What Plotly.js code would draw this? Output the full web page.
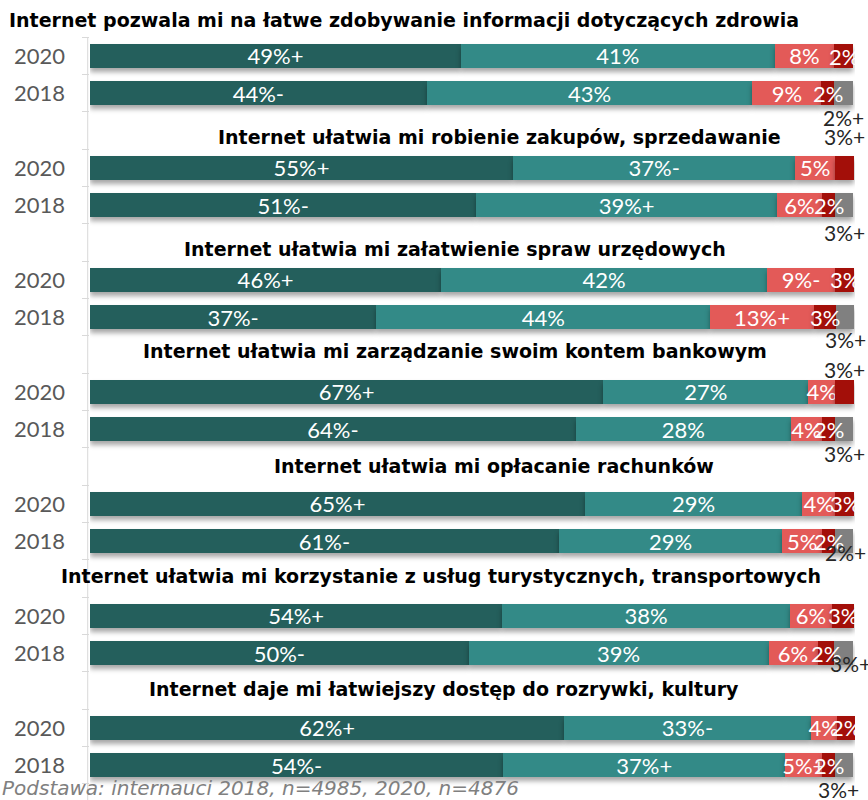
<!DOCTYPE html>
<html>
<head>
<meta charset="utf-8">
<script src="https://cdn.plot.ly/plotly-3.0.1.min.js"></script>
<style>
  html, body { margin: 0; padding: 0; background: #ffffff; }
  #chart { width: 868px; height: 800px; }
  .barlayer .point path { filter: drop-shadow(0px 4px 2.5px rgba(0,0,0,0.35)); }
</style>
</head>
<body>
<div id="chart"></div>
<script>
// ---------- DATA ----------
const questions = [
  'Internet pozwala mi na łatwe zdobywanie informacji dotyczących zdrowia',
  'Internet ułatwia mi robienie zakupów, sprzedawanie',
  'Internet ułatwia mi załatwienie spraw urzędowych',
  'Internet ułatwia mi zarządzanie swoim kontem bankowym',
  'Internet ułatwia mi opłacanie rachunków',
  'Internet ułatwia mi korzystanie z usług turystycznych, transportowych',
  'Internet daje mi łatwiejszy dostęp do rozrywki, kultury'
];
const years = ['2020', '2018'];

// segment values (%)
const s1_2020 = [48.5, 55.3, 45.9, 67.1, 64.7, 53.9, 62.0];
const s1_2018 = [44.0, 50.5, 37.4, 63.5, 61.3, 49.5, 54.0];
const s2_2020 = [41.0, 36.9, 42.6, 26.8, 28.4, 37.6, 32.2];
const s2_2018 = [42.6, 39.3, 43.7, 28.1, 29.2, 39.2, 36.9];
const s3_2020 = [7.8, 5.2, 8.9, 3.5, 4.3, 5.5, 3.4];
const s3_2018 = [9.0, 5.9, 13.5, 4.1, 5.2, 6.4, 4.8];
const s4_2020 = [2.5, 2.5, 2.5, 2.5, 2.5, 2.9, 2.4];
const s4_2018 = [1.7, 1.7, 2.9, 1.7, 1.7, 2.2, 1.7];
const s5_2020 = [0, 0, 0, 0, 0, 0, 0];
const s5_2018 = [2.4, 2.4, 2.4, 2.4, 2.4, 2.4, 2.4];

// labels as printed
const l1_2020 = ['49%+', '55%+', '46%+', '67%+', '65%+', '54%+', '62%+'];
const l1_2018 = ['44%-', '51%-', '37%-', '64%-', '61%-', '50%-', '54%-'];
const l2_2020 = ['41%', '37%-', '42%', '27%', '29%', '38%', '33%-'];
const l2_2018 = ['43%', '39%+', '44%', '28%', '29%', '39%', '37%+'];
const l3_2020 = ['8%', '5%', '9%-', '4%', '4%', '6%', '4%'];
const l3_2018 = ['9%', '6%', '13%+', '4%', '5%', '6%', '5%+'];
const l4_2020 = ['2%', '', '3%', '', '3%', '3%', '2%'];
const l4_2018 = ['2%', '2%', '3%', '2%', '2%', '2%', '2%'];
const l4_2020_out = ['', '3%+', '', '3%+', '', '', ''];
const l5_2018_out = ['2%+', '3%+', '3%+', '3%+', '2%+', '3%+', '3%+'];

const footnote = 'Podstawa: internauci 2018, n=4985, 2020, n=4876';

// ---------- LAYOUT HELPERS ----------
const W = 868, H = 800, L = 90, R = 13;
const rowPx = 37.33;
const yMax = -0.5 + H / rowPx;
const colors = ['#245F5C', '#338A87', '#E35A58', '#A30F09', '#808080'];
const FONT = 'Lato, "DejaVu Sans", sans-serif';
const TFONT = '"DejaVu Sans", sans-serif';

const titleCenterPx = [404, 499, 455, 455, 494, 441, 444];
const titleYPx = [20, 137, 249, 351, 466, 576, 689];
const outOffPx2018 = [24, 27, 22, 24, 11, 10, 24];
const outShift2018 = [0, 0, 0, 0, 1, 7, -6];
const outOffPx2020 = [0, -31, 0, -22, 0, 0, 0];

const rows = [], texts = [[], [], [], [], []], vals = [[], [], [], [], []];
const S = [[s1_2020, s1_2018], [s2_2020, s2_2018], [s3_2020, s3_2018], [s4_2020, s4_2018], [s5_2020, s5_2018]];
const T = [[l1_2020, l1_2018], [l2_2020, l2_2018], [l3_2020, l3_2018], [l4_2020.map(() => ''), l4_2018.map(() => '')], [s5_2020.map(() => ''), s5_2018.map(() => '')]];
for (let i = 0; i < questions.length; i++) {
  for (let j = 0; j < 2; j++) {
    rows.push(3 * i + 1 + j);
    for (let k = 0; k < 5; k++) {
      vals[k].push(S[k][j][i]);
      texts[k].push(T[k][j][i]);
    }
  }
}

const traces = [0, 1, 2, 3, 4].map(k => ({
  type: 'bar',
  orientation: 'h',
  x: vals[k],
  y: rows,
  width: 0.64,
  marker: { color: colors[k], line: { width: 0 } },
  text: texts[k],
  textposition: 'inside',
  insidetextanchor: 'middle',
  textangle: 0,
  constraintext: 'none',
  insidetextfont: { family: FONT, size: 22, color: '#ffffff' },
  cliponaxis: false,
  hoverinfo: 'skip',
  showlegend: false
}));

const annotations = [];
for (let i = 0; i < questions.length; i++) {
  annotations.push({
    xref: 'paper', yref: 'paper',
    x: (titleCenterPx[i] - L) / (W - L - R), y: 1 - titleYPx[i] / H,
    xanchor: 'center', yanchor: 'middle',
    text: '<b>' + questions[i] + '</b>', showarrow: false,
    font: { family: TFONT, size: 19, color: '#000000' }
  });
  // dark red labels inside (white)
  const d20 = s1_2020[i] + s2_2020[i] + s3_2020[i] + s4_2020[i] / 2;
  const d18 = s1_2018[i] + s2_2018[i] + s3_2018[i] + s4_2018[i] / 2;
  if (l4_2020[i]) annotations.push({
    xref: 'x', yref: 'y', x: d20, y: 3 * i + 1, text: l4_2020[i], showarrow: false,
    xanchor: 'center', yanchor: 'middle', font: { family: FONT, size: 22, color: '#ffffff' }
  });
  annotations.push({
    xref: 'x', yref: 'y', x: d18, y: 3 * i + 2, text: l4_2018[i], showarrow: false,
    xanchor: 'center', yanchor: 'middle', font: { family: FONT, size: 22, color: '#ffffff' }
  });
  // outside gray label (2018)
  const c18 = s1_2018[i] + s2_2018[i] + s3_2018[i] + s4_2018[i] + s5_2018[i] / 2;
  annotations.push({
    xref: 'x', yref: 'y', x: c18, y: 3 * i + 2 + outOffPx2018[i] / rowPx,
    xshift: outShift2018[i],
    text: l5_2018_out[i], showarrow: false, xanchor: 'center', yanchor: 'middle',
    font: { family: FONT, size: 21, color: '#262626' }
  });
  if (l4_2020_out[i]) {
    annotations.push({
      xref: 'x', yref: 'y', x: d20, y: 3 * i + 1 + outOffPx2020[i] / rowPx,
      text: l4_2020_out[i], showarrow: false, xanchor: 'center', yanchor: 'middle',
      font: { family: FONT, size: 21, color: '#262626' }
    });
  }
}
annotations.push({
  xref: 'paper', yref: 'paper', x: (0 - L) / (W - L - R), y: 1 - 788 / H,
  xanchor: 'left', yanchor: 'middle', showarrow: false,
  text: '<i>' + footnote + '</i>',
  font: { family: TFONT, size: 20, color: '#808080' }
});

const tickRows = [], tickText = [];
for (let i = 0; i < questions.length; i++) {
  tickRows.push(3 * i + 1, 3 * i + 2);
  tickText.push(years[0], years[1]);
}
const minorVals = [];
for (let r = 0.5; r <= 20.6; r += 1) minorVals.push(r);

const layout = {
  width: W, height: H,
  margin: { l: L, r: R, t: 0, b: 0, pad: 0 },
  paper_bgcolor: '#ffffff', plot_bgcolor: '#ffffff',
  barmode: 'stack',
  bargap: 0,
  hovermode: false,
  showlegend: false,
  xaxis: { range: [0, 100], visible: false, fixedrange: true },
  yaxis: {
    range: [yMax, -0.5],
    tickmode: 'array', tickvals: tickRows, ticktext: tickText,
    ticks: '', showgrid: false, zeroline: false, showline: false,
    ticklabelstandoff: 24,
    tickfont: { family: FONT, size: 22, color: '#595959' },
    minor: { tickmode: 'array', tickvals: minorVals, ticks: 'outside', ticklen: 7, tickcolor: '#D9D9D9', tickwidth: 1, showgrid: false },
    fixedrange: true
  },
  shapes: [{
    type: 'line', xref: 'paper', yref: 'y', x0: -0.003, x1: -0.003, y0: 0.5, y1: yMax,
    line: { color: '#D9D9D9', width: 1 }, layer: 'below'
  }],
  annotations: annotations
};

Plotly.newPlot('chart', traces, layout, { displayModeBar: false, staticPlot: true });
</script>
</body>
</html>
